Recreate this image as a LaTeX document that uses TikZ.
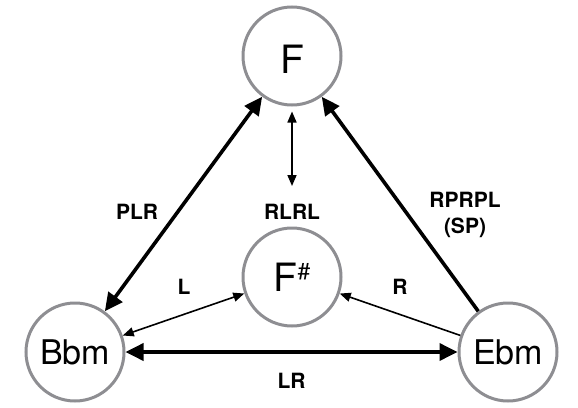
\documentclass[tikz,border=0pt]{standalone}
\usepackage{fontspec}
\setmainfont{TeX Gyre Heros}
\usetikzlibrary{arrows.meta}
\definecolor{circgray}{RGB}{142,142,146}
\tikzset{
  chord/.style={circle, draw=circgray, line width=3pt, minimum size=98pt, inner sep=0pt, text=black},
  bigtxt/.style={font=\fontsize{34}{34}\selectfont},
  toptxt/.style={font=\fontsize{39}{39}\selectfont},
  lab/.style={font=\fontsize{21}{21}\selectfont\bfseries, inner sep=0pt},
  thickarr/.style={line width=3.6pt, draw=black},
  thinarr/.style={line width=1.6pt, draw=black},
  bigtip/.tip={Triangle[length=18pt,width=17pt]},
  smalltip/.tip={Triangle[length=11pt,width=9pt]}
}
\begin{document}
\begin{tikzpicture}[x=1pt,y=-1pt]
\useasboundingbox (0,0) rectangle (578,407);
\node[chord, toptxt, text height=35pt, text depth=0pt] (F) at (292,56) {F};
\node[chord, toptxt] (Fs) at (292,277) {F{\fontsize{23}{23}\selectfont\raisebox{12pt}{\#}}};
\node[chord, bigtxt] (Bbm) at (75,352) {Bbm};
\node[chord, bigtxt] (Ebm) at (508,352) {Ebm};
\coordinate (vend) at (292,186);
% connectors
\draw[thickarr, bigtip-bigtip] (Bbm) -- (F);
\draw[thickarr, -bigtip] (Ebm) -- (F);
\draw[thickarr, bigtip-bigtip] (Bbm) -- (Ebm);
\draw[thinarr, smalltip-smalltip, shorten <=5pt] (F) -- (vend);
\draw[thinarr, smalltip-smalltip] (Bbm) -- (Fs);
\draw[thinarr, -smalltip] (Ebm) -- (Fs);
% labels
\node[lab] (plr) at (137,212) {PLR};
\node[lab] (rlrl) at (292,212) {RLRL};
\node[lab] (rprpl) at (465,199.5) {RPRPL};
\node[lab, anchor=base] (sp) at (465,233) {(SP)};
\node[lab] (l) at (184,286.5) {L};
\node[lab] (r) at (400,287) {R};
\node[lab] (lr) at (291.5,380.5) {LR};
\end{tikzpicture}
\end{document}
